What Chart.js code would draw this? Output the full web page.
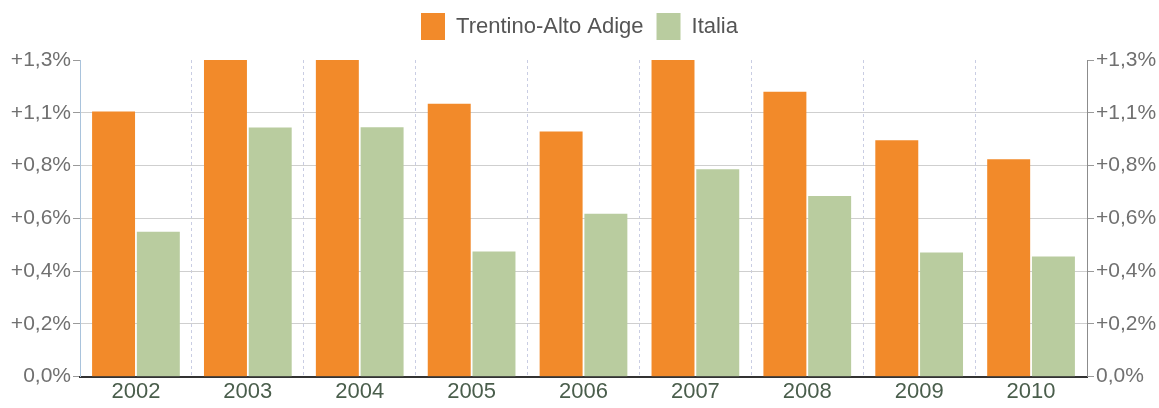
<!DOCTYPE html>
<html>
<head>
<meta charset="utf-8">
<script src="https://cdn.jsdelivr.net/npm/chart.js@4"></script>
<style>
  html, body { margin: 0; padding: 0; background: #ffffff; }
  #wrap { width: 1159px; height: 408px; }
</style>
</head>
<body>
<div id="wrap"><canvas id="bar_chart_canvas"></canvas></div>
<script>
// Population growth rate per year (%)
var years = ['2002', '2003', '2004', '2005', '2006', '2007', '2008', '2009', '2010'];
var trentino = [1.063, 1.27, 1.27, 1.095, 0.983, 1.27, 1.143, 0.948, 0.872];
var italia = [0.581, 0.999, 1.0, 0.502, 0.653, 0.832, 0.725, 0.498, 0.482];

// Axis: 6 equal steps up to the top, labels as printed on the original
var yMax = 1.27;
var tickLabels = ['0,0%', '+0,2%', '+0,4%', '+0,6%', '+0,8%', '+1,1%', '+1,3%'];

var fontFamily = "'Liberation Sans', Arial, sans-serif";

function set_ticks(scale) {
    scale.ticks = tickLabels.map(function (l, i) {
        return { value: i * yMax / (tickLabels.length - 1) };
    });
}

function y_axis(position, width) {
    return {
        position: position,
        min: 0,
        max: yMax,
        afterBuildTicks: set_ticks,
        afterFit: function (scale) { scale.width = width; },
        ticks: {
            color: '#707070',
            padding: 2,
            font: { family: fontFamily, size: 21 },
            callback: function (value, index) { return tickLabels[index]; }
        },
        grid: {
            drawOnChartArea: position === 'left',
            color: function (ctx) {
                return ctx.index === tickLabels.length - 1 ? 'rgba(0,0,0,0)' : '#cfcfcf';
            },
            tickColor: '#9a9a9a',
            tickLength: 7
        },
        border: {
            color: position === 'left' ? '#a9c3dc' : '#8c8c8c',
            width: 1
        }
    };
}

// Extra room below the legend
var legend_margin = {
    id: 'legend_margin',
    beforeInit: function (chart) {
        var fit = chart.legend.fit;
        chart.legend.fit = function () {
            fit.bind(chart.legend)();
            this.height += 10;
        };
    }
};

var datapoints = {
    labels: years,
    datasets: [{
        label: 'Trentino-Alto Adige',
        data: trentino,
        backgroundColor: '#f28a2a',
        yAxisID: 'y'
    }, {
        label: 'Italia',
        data: italia,
        backgroundColor: '#b9cc9f',
        yAxisID: 'y'
    }]
};

var context = document.getElementById('bar_chart_canvas').getContext('2d');

var bar_chart = new Chart(context, {
    type: 'bar',
    data: datapoints,
    plugins: [legend_margin],
    options: {
        responsive: true,
        maintainAspectRatio: false,
        animation: false,
        categoryPercentage: 0.8,
        barPercentage: 0.96,
        layout: { padding: { top: 0, bottom: 0 } },
        plugins: {
            tooltip: { enabled: false },
            legend: {
                position: 'top',
                labels: {
                    boxWidth: 24,
                    boxHeight: 27,
                    padding: 13,
                    color: '#555555',
                    font: { family: fontFamily, size: 22 }
                }
            }
        },
        scales: {
            x: {
                ticks: {
                    color: '#4a5e4c',
                    padding: 3,
                    font: { family: fontFamily, size: 22, lineHeight: 1.15 }
                },
                grid: {
                    color: '#c9cde3',
                    drawTicks: false
                },
                border: {
                    color: '#333333',
                    width: 2,
                    dash: [3, 3]
                }
            },
            y: y_axis('left', 80),
            y2: y_axis('right', 72)
        }
    }
});
</script>
</body>
</html>
